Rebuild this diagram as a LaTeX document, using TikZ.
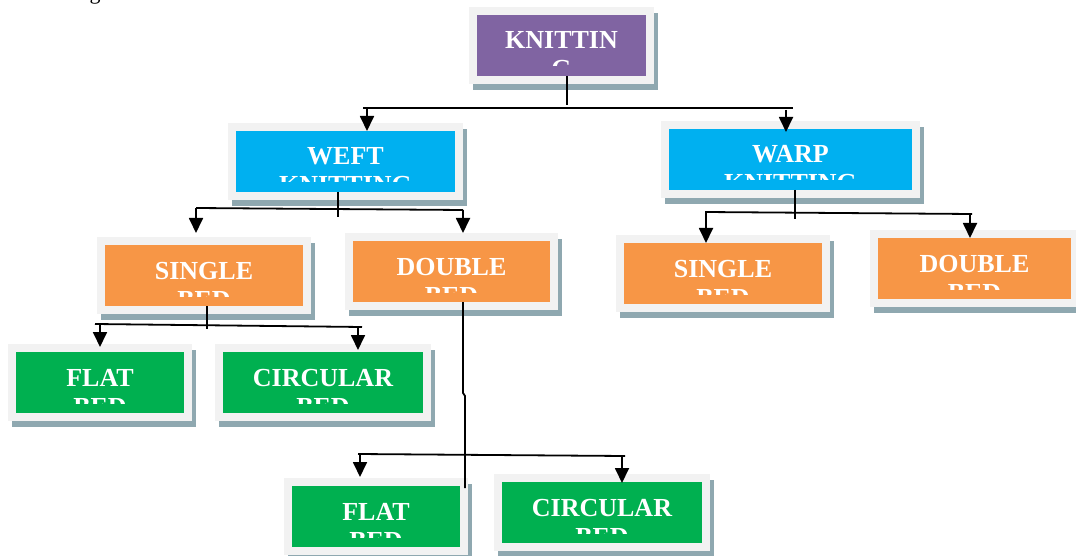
\documentclass[tikz,border=0pt]{standalone}
\usepackage{fontspec}
\setmainfont{Liberation Serif}
\usetikzlibrary{arrows.meta}
\definecolor{shadowc}{HTML}{8FA8B0}
\definecolor{framec}{HTML}{F2F2F2}
\definecolor{purplec}{HTML}{8064A2}
\definecolor{bluec}{HTML}{00B0F0}
\definecolor{orangec}{HTML}{F79646}
\definecolor{greenc}{HTML}{00B050}
\tikzset{
  boxn/.style={inner sep=0pt, outer sep=0pt},
  lbl/.style={anchor=base, inner sep=0pt, text=white, font=\fontsize{26}{29}\selectfont\bfseries},
  ln/.style={line width=1.8pt, black},
  arr/.style={line width=1.8pt, black, -{Triangle[length=15pt,width=14pt]}}
}
\newcommand\kbox[8]{%
  \fill[shadowc] ({#2-8+4},{#3-8+6}) rectangle ({#4+8+4},{#5+8+6});
  \fill[framec] ({#2-8},{#3-8}) rectangle ({#4+8},{#5+8});
  \node[boxn, fill=#6, minimum width={(#4-#2)*1pt}, minimum height={(#5-#3)*1pt}, anchor=north west] (#1) at (#2,#3) {};
  \begin{scope}
    \clip (#2,#3) rectangle (#4,{#5-10});
    \node[lbl] (#1-a) at ({(#2+#4)/2},{#3+34}) {#7};
    \node[lbl] (#1-b) at ({(#2+#4)/2},{#3+63}) {#8};
  \end{scope}}
\begin{document}
\begin{tikzpicture}[x=1pt,y=-1pt]
\useasboundingbox (0,0) rectangle (1076,556);
\node[inner sep=0pt, anchor=south, font=\fontsize{22}{26}\selectfont] (frag) at (95,4) {g};
% boxes
\kbox{knit}{477}{15}{646}{76}{purplec}{KNITTIN}{G}
\kbox{weft}{236}{131}{455}{192}{bluec}{WEFT}{KNITTING}
\kbox{warp}{669}{129}{912}{190}{bluec}{WARP}{KNITTING}
\kbox{sbl}{105}{245}{303}{306}{orangec}{SINGLE}{BED}
\kbox{dbl}{353}{241}{550}{302}{orangec}{DOUBLE}{BED}
\kbox{sbr}{624}{243}{822}{304}{orangec}{SINGLE}{BED}
\kbox{dbr}{878}{238}{1071}{299}{orangec}{DOUBLE}{BED}
\kbox{fbl}{16}{352}{184}{413}{greenc}{FLAT}{BED}
\kbox{cbl}{223}{352}{423}{413}{greenc}{CIRCULAR}{BED}
\kbox{fbb}{292}{486}{460}{547}{greenc}{FLAT}{BED}
\kbox{cbb}{502}{482}{702}{543}{greenc}{CIRCULAR}{BED}
% connectors: knitting
\coordinate (k0) at (567,105);
\coordinate (kL) at (363,108);
\coordinate (kR) at (793,108);
\coordinate (kA1) at (367,108);
\coordinate (kA2) at (786,110);
\draw[ln] (knit.south -| k0) -- (k0);
\draw[ln] (kL) -- (kR);
\draw[arr] (kA1) -- (kA1 |- weft.north);
\draw[arr] (kA2) -- ([yshift=-3pt]kA2 |- warp.north);
% weft
\coordinate (w0) at (338,217);
\coordinate (wL) at (196,208);
\coordinate (wR) at (463,210);
\coordinate (wT1) at (196,233);
\coordinate (wT2) at (463,233);
\draw[ln] (weft.south -| w0) -- (w0);
\draw[ln] (wL) -- (wR);
\draw[arr] (wL) -- (wT1);
\draw[arr] (wR) -- (wT2);
% warp
\coordinate (r0) at (795,219);
\coordinate (rL) at (705,212);
\coordinate (rR) at (972,214);
\coordinate (rA1) at (706,212);
\coordinate (rA2) at (970,214);
\draw[ln] (warp.south -| r0) -- (r0);
\draw[ln] (rL) -- (rR);
\draw[arr] (rA1) -- (rA1 |- sbr.north);
\draw[arr] (rA2) -- (rA2 |- dbr.north);
% single bed left
\coordinate (s0) at (207,329);
\coordinate (sL) at (95,324);
\coordinate (sR) at (362,327);
\coordinate (sA1) at (100,324);
\coordinate (sA2) at (358,327);
\coordinate (sT1) at (100,347);
\coordinate (sT2) at (358,350);
\draw[ln] (sbl.south -| s0) -- (s0);
\draw[ln] (sL) -- (sR);
\draw[arr] (sA1) -- (sT1);
\draw[arr] (sA2) -- (sT2);
% double bed left
\coordinate (d0) at (463,393);
\coordinate (d1) at (465,396);
\coordinate (d2) at (465,488);
\coordinate (dL) at (358,454);
\coordinate (dR) at (625,456);
\coordinate (dA1) at (360,454);
\coordinate (dA2) at (622,456);
\coordinate (dT1) at (360,477);
\coordinate (dT2) at (622,483);
\draw[ln] (dbl.south -| d0) -- (d0) -- (d1) -- (d2);
\draw[ln] (dL) -- (dR);
\draw[arr] (dA1) -- (dT1);
\draw[arr] (dA2) -- (dT2);
\end{tikzpicture}
\end{document}
